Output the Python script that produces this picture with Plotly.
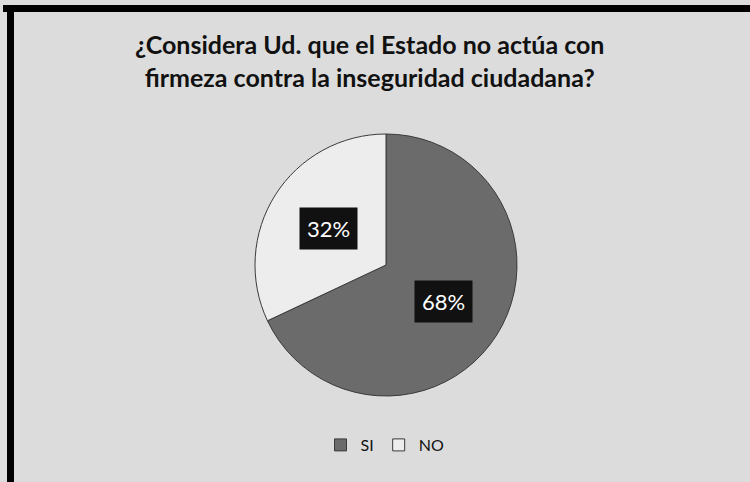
import math
import plotly.graph_objects as go

# Survey answers
categories = ["SI", "NO"]
shares = [68, 32]
slice_colors = ["#6b6b6b", "#ededed"]

title_lines = ["¿Considera Ud. que el Estado no actúa con",
               "firmeza contra la inseguridad ciudadana?"]

W, H = 750, 482
# pie placement in pixels
cx, cy, r = 386, 265, 131

fig = go.Figure(go.Pie(
    labels=categories,
    values=shares,
    sort=False,
    direction="clockwise",
    rotation=0,
    textinfo="none",
    hoverinfo="label+percent",
    marker=dict(colors=slice_colors, line=dict(color="#3a3a3a", width=1)),
    domain=dict(x=[(cx - r) / W, (cx + r) / W], y=[1 - (cy + r) / H, 1 - (cy - r) / H]),
))

# percentage labels placed at the middle angle of each slice
total = sum(shares)
start = 0.0
annotations = []
for cat, v in zip(categories, shares):
    frac = v / total
    mid = (start + frac / 2) * 2 * math.pi
    start += frac
    px = cx + 0.52 * r * math.sin(mid)
    py = cy - 0.52 * r * math.cos(mid)
    annotations.append(dict(
        x=px / W, y=1 - py / H, xref="paper", yref="paper",
        text=f"{round(frac * 100)}%", showarrow=False,
        font=dict(family="Lato, Open Sans, sans-serif", size=22, color="white"),
        bgcolor="#111111", borderpad=7,
    ))

annotations.append(dict(
    x=369 / W, y=1 - 60 / H, xref="paper", yref="paper",
    text="<b>" + "</b><br><b>".join(title_lines) + "</b>", showarrow=False,
    font=dict(family="Lato, Open Sans, sans-serif", size=25, color="#111111"),
    align="center", xanchor="center", yanchor="middle",
))

fig.update_layout(
    width=W, height=H,
    margin=dict(l=0, r=0, t=0, b=0),
    paper_bgcolor="#dcdcdc",
    plot_bgcolor="#dcdcdc",
    annotations=annotations,
    showlegend=True,
    legend=dict(
        orientation="h", x=385 / W, xanchor="center",
        y=1 - 445 / H, yanchor="middle",
        font=dict(family="Lato, Open Sans, sans-serif", size=16, color="#111111"),
        bgcolor="rgba(0,0,0,0)", itemwidth=30,
    ),
    shapes=[
        dict(type="line", xref="paper", yref="paper",
             x0=3 / W, x1=1.0, y0=1 - 8.5 / H, y1=1 - 8.5 / H,
             line=dict(color="black", width=7)),
        dict(type="line", xref="paper", yref="paper",
             x0=10.5 / W, x1=10.5 / W, y0=0, y1=1 - 5 / H,
             line=dict(color="black", width=7)),
    ],
)

fig.write_html("out.html")
